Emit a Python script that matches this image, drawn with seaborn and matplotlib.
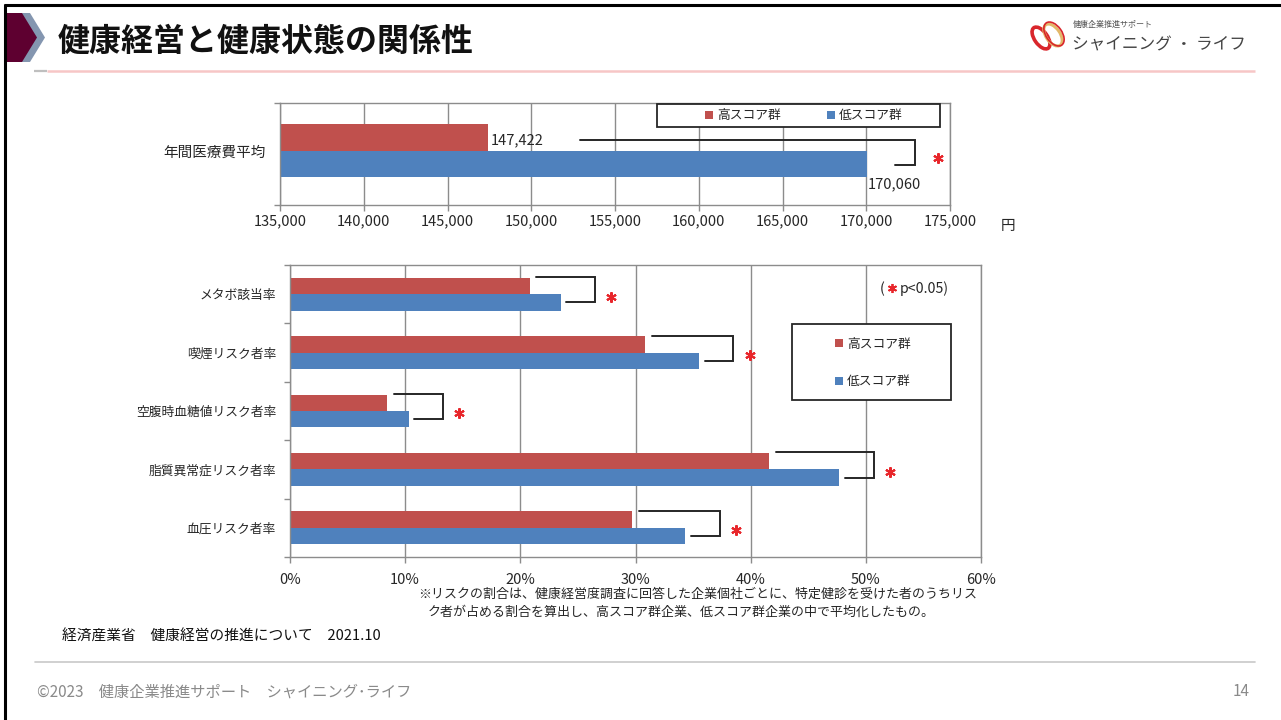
import numpy as np
import pandas as pd
import matplotlib
matplotlib.use("Agg")
import matplotlib.pyplot as plt
from matplotlib.patches import Rectangle, Polygon, Ellipse, Patch
from matplotlib.legend import Legend
from matplotlib.ticker import FuncFormatter
import seaborn as sns

# ---- data -------------------------------------------------------------
groups = ["高スコア群", "低スコア群"]

cost_items = ["年間医療費平均"]
cost_high = [147422]
cost_low = [170060]
cost_ticks = [135000, 140000, 145000, 150000, 155000, 160000, 165000, 170000, 175000]

risk_items = ["メタボ該当率", "喫煙リスク者率", "空腹時血糖値リスク者率",
              "脂質異常症リスク者率", "血圧リスク者率"]
risk_high = [20.8, 30.8, 8.4, 41.6, 29.7]
risk_low = [23.5, 35.5, 10.3, 47.7, 34.3]
risk_ticks = [0, 10, 20, 30, 40, 50, 60]

# ---- style ------------------------------------------------------------
RED = "#C0504D"
BLUE = "#4F81BD"
STAR = "#E8262B"
GRID = "#8C8C8C"
TXT = "#262626"

sns.set_theme(style="white")
plt.rcParams["font.family"] = ["Noto Sans CJK JP", "DejaVu Sans"]

W, H = 1281, 720
fig = plt.figure(figsize=(W / 100, H / 100), dpi=100)
fig.patch.set_facecolor("white")


def px_axes(left, top, right, bottom, **kw):
    return fig.add_axes([left / W, 1 - bottom / H, (right - left) / W, (bottom - top) / H], **kw)


def long_frame(items, high, low):
    return pd.DataFrame({
        "item": items * 2,
        "group": np.repeat(groups, len(items)),
        "value": list(high) + list(low),
    })


def style_axes(ax, ticks, fmt, ylab_size, ypad, xpad):
    ax.set_xticks(ticks)
    ax.xaxis.set_major_formatter(FuncFormatter(fmt))
    ax.grid(axis="x", color=GRID, lw=1)
    ax.grid(axis="y", visible=False)
    ax.set_axisbelow(True)
    for s in ax.spines.values():
        s.set_visible(True)
        s.set_color(GRID)
        s.set_linewidth(1)
    ax.set_xlabel("")
    ax.set_ylabel("")
    ax.tick_params(axis="x", which="major", length=4, width=1, color=GRID,
                   pad=xpad, labelsize=10.5, labelcolor=TXT, bottom=True)
    ax.tick_params(axis="y", which="major", length=0, pad=ypad,
                   labelsize=ylab_size, labelcolor=TXT)
    ax.tick_params(axis="y", which="minor", length=4, width=1, color=GRID, left=True)
    ax.set_facecolor("none")


def star(ax, x, y, ms=7.5):
    ax.plot([x], [y], marker=(6, 2, 0), ms=ms, mew=1.5, color=STAR,
            linestyle="none", clip_on=False)


bar_kw = dict(hue="group", hue_order=groups, palette=[RED, BLUE], orient="h",
              saturation=1, errorbar=None, legend=False, linewidth=0, edgecolor="none")

# ---- annual medical cost ----------------------------------------------
ax1 = px_axes(280, 103, 950, 205)
sns.barplot(data=long_frame(cost_items, cost_high, cost_low), x="value", y="item",
            width=0.52, ax=ax1, **bar_kw)
ax1.set_xlim(cost_ticks[0], cost_ticks[-1])
ax1.set_ylim(0.53, -0.47)
ax1.set_yticks([-0.47, 0.53], minor=True)
style_axes(ax1, cost_ticks, lambda v, p: f"{int(v):,}", 10.5, 10.5, 3)

hi, lo = cost_high[0], cost_low[0]
ax1.annotate(f"{hi:,}", xy=(hi, -0.108), xytext=(2, 0), textcoords="offset points",
             ha="left", va="center", fontsize=10.5, color=TXT)
ax1.annotate(f"{lo:,}", xy=(lo, 0.26), xytext=(0, 0), textcoords="offset points",
             ha="left", va="top", fontsize=10.5, color=TXT)
bx = lo + 2850
ax1.plot([hi + 5500, bx, bx, lo + 1650], [-0.108, -0.108, 0.137, 0.137],
         color=TXT, lw=1.4, solid_joinstyle="miter", clip_on=False)
star(ax1, lo + 4250, 0.07)

# ---- risk ratios --------------------------------------------------------
ax2 = px_axes(290, 265, 981, 557)
sns.barplot(data=long_frame(risk_items, risk_high, risk_low), x="value", y="item",
            width=0.565, ax=ax2, **bar_kw)
ax2.set_xlim(risk_ticks[0], risk_ticks[-1])
ax2.set_ylim(len(risk_items) - 0.5, -0.5)
ax2.set_yticks(np.arange(len(risk_items) + 1) - 0.5, minor=True)
style_axes(ax2, risk_ticks, lambda v, p: f"{int(v)}%", 9.2, 10, 7.5)

for i, (h, l) in enumerate(zip(risk_high, risk_low)):
    bx = l + 3.0
    ax2.plot([h + 0.6, bx, bx, l + 0.5], [i - 0.29, i - 0.29, i + 0.14, i + 0.14],
             color=TXT, lw=1.4, solid_joinstyle="miter")
    star(ax2, bx + 1.4, i + 0.04)

# ---- page decorations ---------------------------------------------------
ov = fig.add_axes([0, 0, 1, 1], zorder=10)
ov.set_xlim(0, W)
ov.set_ylim(H, 0)
ov.axis("off")
ov.patch.set_alpha(0)

# frame
ov.plot([4, W], [5, 5], color="black", lw=2.2, solid_capstyle="butt")
ov.plot([5, 5], [4, H], color="black", lw=2.2, solid_capstyle="butt")

# heading marker and title
ov.add_patch(Polygon([(14, 13), (30, 13), (45, 37.5), (30, 62), (14, 62)],
                     closed=True, facecolor="#8496B0", edgecolor="none"))
ov.add_patch(Polygon([(6, 13), (22, 13), (37, 37.5), (22, 62), (6, 62)],
                     closed=True, facecolor="#5E0030", edgecolor="none"))
ov.text(58, 42, "健康経営と健康状態の関係性", fontsize=23, fontweight="bold",
        color="#111111", ha="left", va="center")
ov.plot([34, 47], [71, 71], color="#BFBFBF", lw=1.6, solid_capstyle="butt")
ov.plot([47, 1255], [71, 71], color="#F7C6C6", lw=1.8, solid_capstyle="butt")

# logo
ov.add_patch(Ellipse((1041, 38), 13, 25, angle=-35, facecolor="none",
                     edgecolor="#D9262C", lw=2.6))
ov.add_patch(Ellipse((1053, 35), 14, 25, angle=-35, facecolor="none",
                     edgecolor="#E3B86A", lw=2.2))
ov.add_patch(Ellipse((1054, 34), 16, 27, angle=-35, facecolor="none",
                     edgecolor="#D9262C", lw=1.2))
ov.text(1073, 24, "健康企業推進サポート", fontsize=5.8, color="#555555",
        ha="left", va="center")
ov.text(1072, 45, "シャイニング ・ ライフ", fontsize=12, color="#444444",
        ha="left", va="center")

# unit label
ov.text(1001, 226, "円", fontsize=10.5, color=TXT, ha="left", va="center")

# legends
handles = [Patch(facecolor=RED, edgecolor="none"), Patch(facecolor=BLUE, edgecolor="none")]
leg_kw = dict(frameon=False, fontsize=9.2, handlelength=0.6, handleheight=0.6,
              handletextpad=0.35, borderpad=0, borderaxespad=0, labelcolor=TXT,
              loc="center left", bbox_transform=ov.transData)

ov.add_patch(Rectangle((657, 104), 283, 23, facecolor="white", edgecolor="#262626", lw=1.3))
ov.add_artist(Legend(ov, handles, groups, ncol=2, columnspacing=3.6,
                     bbox_to_anchor=(705, 116), **leg_kw))

ov.add_patch(Rectangle((792, 324), 159, 76, facecolor="white", edgecolor="#262626", lw=1.3))
ov.add_artist(Legend(ov, handles, groups, ncol=1, labelspacing=1.9,
                     bbox_to_anchor=(835, 363), **leg_kw))

# significance key
ov.text(880, 289, "(", fontsize=10.2, color=TXT, ha="left", va="center")
ov.plot([892], [288], marker=(6, 2, 0), ms=6.5, mew=1.3, color=STAR, linestyle="none")
ov.text(900, 289, "p<0.05)", fontsize=10.2, color=TXT, ha="left", va="center")

# footnote and source
ov.text(418, 594, "※リスクの割合は、健康経営度調査に回答した企業個社ごとに、特定健診を受けた者のうちリス",
        fontsize=9.35, color=TXT, ha="left", va="center")
ov.text(428, 612, "ク者が占める割合を算出し、高スコア群企業、低スコア群企業の中で平均化したもの。",
        fontsize=9.35, color=TXT, ha="left", va="center")
ov.text(62, 637, "経済産業省\u3000健康経営の推進について\u30002021.10", fontsize=10.6,
        color="#111111", ha="left", va="center")

# footer
ov.plot([35, 1255], [662, 662], color="#C8C8C8", lw=1.2)
ov.text(37, 692, "©2023\u3000健康企業推進サポート\u3000シャイニング･ライフ", fontsize=11,
        color="#8A8A8A", ha="left", va="center")
ov.text(1250, 692, "14", fontsize=11, color="#8A8A8A", ha="right", va="center")

fig.savefig("out.png", dpi=100, facecolor="white")
